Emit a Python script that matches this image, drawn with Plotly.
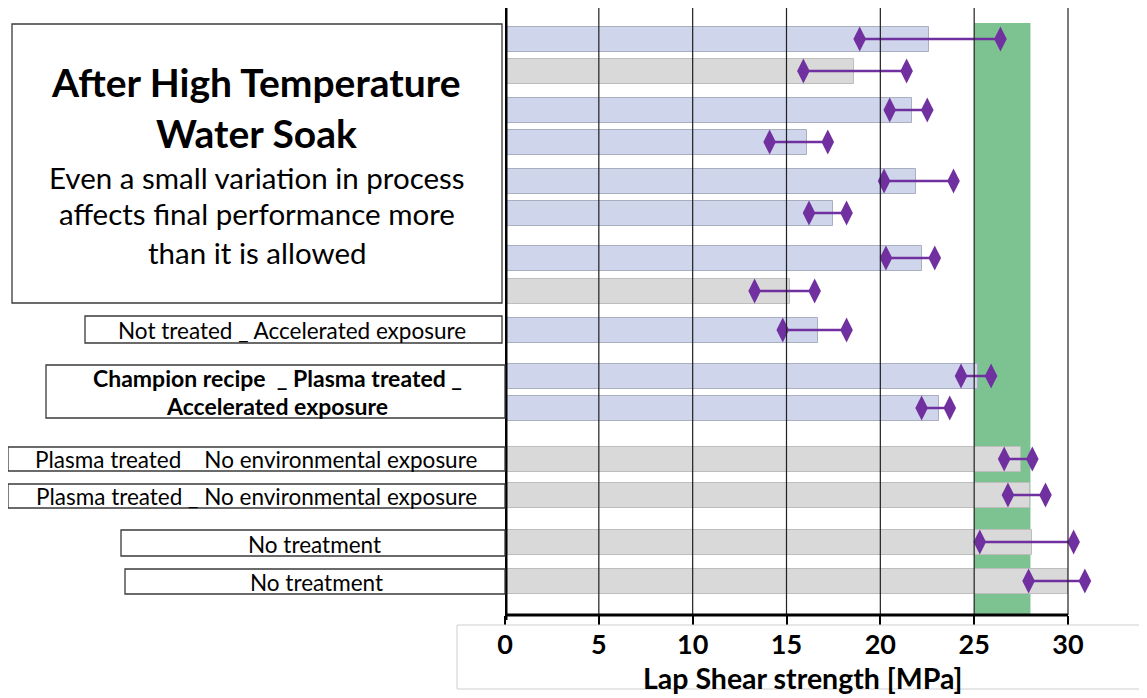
import plotly.graph_objects as go

# ---------------- data ----------------
means = [22.6, 18.6, 21.7, 16.1, 21.9, 17.5, 22.2, 15.2, 16.7, 25.2, 23.1, 27.5, 28.0, 28.1, 30.0]
err_low = [18.9, 15.9, 20.5, 14.1, 20.2, 16.2, 20.3, 13.3, 14.8, 24.3, 22.2, 26.6, 26.8, 25.3, 27.9]
err_high = [26.4, 21.4, 22.5, 17.2, 23.9, 18.2, 22.9, 16.5, 18.2, 25.9, 23.7, 28.1, 28.8, 30.3, 30.9]
series_kind = ["blue", "gray", "blue", "blue", "blue", "blue", "blue", "gray", "blue",
               "blue", "blue", "gray", "gray", "gray", "gray"]
target_band = [25, 28]
x_ticks = [0, 5, 10, 15, 20, 25, 30]
title_lines = ["After High Temperature", "Water Soak"]
body_lines = ["Even a small variation in process", "affects final performance more", "than it is allowed"]
row_labels = ["Not treated _ Accelerated exposure",
              "Champion recipe\u00a0 _ Plasma treated _",
              "Accelerated exposure",
              "Plasma treated\u00a0\u00a0\u00a0\u00a0No environmental exposure",
              "Plasma treated _ No environmental exposure",
              "No treatment",
              "No treatment"]
x_title = "Lap Shear strength [MPa]"

# ---------------- layout geometry (page pixels) ----------------
PAGE_OFF = 8                      # browser body margin
W, H = 1147 - PAGE_OFF, 698 - PAGE_OFF
PL, PR, PT, PB = 505, 1147, 8, 615
row_pos = [39, 71, 110, 142, 181, 213, 258, 291, 330, 376, 408, 459, 495, 542, 581]

def px(x):
    return (x - PL) / (PR - PL)

def py(y):
    return (PB - y) / (PB - PT)

FONT = "Lato"
fill = {"blue": "#CFD5EA", "gray": "#D9D9D9"}
edge = {"blue": "#A9AEC0", "gray": "#BDBDBD"}
PURPLE = "#7030A0"

fig = go.Figure()

fig.add_trace(go.Bar(
    orientation="h", y=row_pos, x=means, width=25,
    marker=dict(color=[fill[k] for k in series_kind],
                line=dict(color=[edge[k] for k in series_kind], width=1)),
    hoverinfo="x",
))

wx, wy = [], []
for lo, hi, yy in zip(err_low, err_high, row_pos):
    wx += [lo, hi, None]
    wy += [yy, yy, None]
fig.add_trace(go.Scatter(
    x=wx, y=wy, mode="lines+markers",
    line=dict(color=PURPLE, width=2.5),
    marker=dict(symbol="diamond-tall", size=18, color=PURPLE),
    hoverinfo="skip", cliponaxis=False,
))

shapes = []
shapes.append(dict(type="rect", xref="x", yref="y", x0=target_band[0], x1=target_band[1],
                   y0=23, y1=PB, fillcolor="#7DC392", line=dict(width=0), layer="below"))
for t in x_ticks[1:]:
    shapes.append(dict(type="line", xref="x", yref="paper", x0=t, x1=t, y0=0, y1=1,
                       line=dict(color="#202020", width=1.2), layer="above"))
shapes.append(dict(type="line", xref="x", yref="paper", x0=0, x1=x_ticks[-1], y0=0, y1=0,
                   line=dict(color="black", width=3), layer="above"))
shapes.append(dict(type="line", xref="x", yref="paper", x0=0, x1=0, y0=py(620), y1=1,
                   line=dict(color="black", width=5), layer="above"))

shapes.append(dict(type="rect", xref="paper", yref="paper", x0=px(457), x1=px(1160),
                   y0=py(689), y1=py(625), line=dict(color="#CFCFCF", width=1),
                   fillcolor="rgba(0,0,0,0)"))

boxes = [(12, 502, 24, 303), (85, 502, 316, 343), (46, 505, 365, 418),
         (8, 505, 447, 471), (8, 505, 484, 508), (121, 505, 530, 556), (125, 505, 569, 594)]
for x0, x1, y0, y1 in boxes:
    shapes.append(dict(type="rect", xref="paper", yref="paper", x0=px(x0), x1=px(x1),
                       y0=py(y1), y1=py(y0), line=dict(color="#3A3A3A", width=1.3),
                       fillcolor="white"))

ann = []
def text(t, x, y, size, bold=False):
    ann.append(dict(text=t, xref="paper", yref="paper", x=px(x), y=py(y),
                    xanchor="center", yanchor="middle", showarrow=False,
                    font=dict(family=FONT, size=size, color="black",
                              weight="bold" if bold else "normal")))

text(title_lines[0], 256, 82, 39, True)
text(title_lines[1], 256, 133, 39, True)
for line, yy in zip(body_lines, [177, 214, 252]):
    text(line, 257, yy, 29.5)
text(row_labels[0], 292, 330, 22.5)
text(row_labels[1], 277, 378, 23, True)
text(row_labels[2], 277, 406, 23, True)
text(row_labels[3], 256, 460, 22.5)
text(row_labels[4], 256, 496, 22.5)
text(row_labels[5], 314, 544, 22.5)
text(row_labels[6], 316, 582, 22.5)
text(x_title, 802, 678, 28.5, True)

fig.update_layout(
    width=W, height=H,
    margin=dict(l=PL - PAGE_OFF, r=1147 - PR, t=PT - PAGE_OFF, b=698 - PB, pad=0),
    paper_bgcolor="white", plot_bgcolor="white",
    showlegend=False, bargap=0,
    shapes=shapes, annotations=ann,
    xaxis=dict(range=[0, (PR - PL) / ((1068 - 505) / 30)], showgrid=False, zeroline=False,
               showline=False, ticks="outside", ticklen=9, tickwidth=2, tickcolor="black",
               tickvals=x_ticks, ticklabelstandoff=-3,
               tickfont=dict(family=FONT, size=27, color="black", weight="bold")),
    yaxis=dict(range=[PB, PT], visible=False, fixedrange=True),
)

fig.write_html("out.html")
